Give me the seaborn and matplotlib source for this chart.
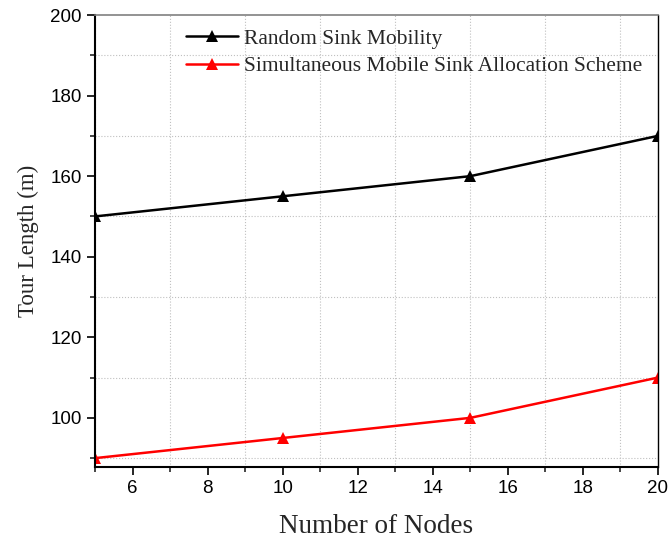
import matplotlib
matplotlib.use("Agg")
import matplotlib.pyplot as plt
import pandas as pd
import seaborn as sns
from matplotlib.ticker import MultipleLocator

nodes = [5, 10, 15, 20]
random_sink = [150, 155, 160, 170]
smsas = [90, 95, 100, 110]
series_names = ["Random Sink Mobility", "Simultaneous Mobile Sink Allocation Scheme"]

df = pd.DataFrame({
    "nodes": nodes * 2,
    "tour": random_sink + smsas,
    "scheme": [series_names[0]] * len(nodes) + [series_names[1]] * len(nodes),
})

sns.set_theme(style="ticks")
plt.rcParams["font.family"] = ["Liberation Sans", "DejaVu Sans"]

fig = plt.figure(figsize=(6.68, 5.44), dpi=100)
ax = fig.add_axes([95 / 668, 1 - 467 / 544, 563 / 668, 452 / 544])

sns.lineplot(data=df, x="nodes", y="tour", hue="scheme", palette=["black", "#ff0000"],
             marker="^", markersize=9, markeredgewidth=0, linewidth=1.8, ax=ax)

ax.set_xlim(5, 20)
ax.set_ylim(87.8, 200)
ax.set_xticks([6, 8, 10, 12, 14, 16, 18, 20])
ax.set_xticks([5, 7, 9, 11, 13, 15, 17, 19], minor=True)
ax.yaxis.set_major_locator(MultipleLocator(20))
ax.set_yticks([90, 110, 130, 150, 170, 190], minor=True)

ax.grid(False, which="major")
ax.grid(True, which="minor", linestyle=":", color="#c0c0c0", linewidth=0.8)
ax.tick_params(which="major", direction="out", length=6, width=1.2, labelsize=13.5, colors="black")
ax.tick_params(which="minor", direction="out", length=3.5, width=1.2)
for s in ["left", "bottom"]:
    ax.spines[s].set_linewidth(1.5)
    ax.spines[s].set_color("black")
ax.spines["top"].set_color("#808080")
ax.spines["top"].set_linewidth(1.2)
ax.spines["right"].set_color("black")
ax.spines["right"].set_linewidth(1.0)

serif = ["Liberation Serif", "DejaVu Serif"]
ax.set_xlabel("Number of Nodes", fontsize=19.5, family=serif, labelpad=12)
ax.set_ylabel("Tour Length (m)", fontsize=16.5, family=serif, labelpad=8)

leg = ax.legend(loc="upper left", bbox_to_anchor=(0.127, 1.012), frameon=False,
                prop={"family": serif, "size": 15.5}, handlelength=2.4,
                labelspacing=0.33, handletextpad=0.3)

fig.savefig("out.png", dpi=100)
